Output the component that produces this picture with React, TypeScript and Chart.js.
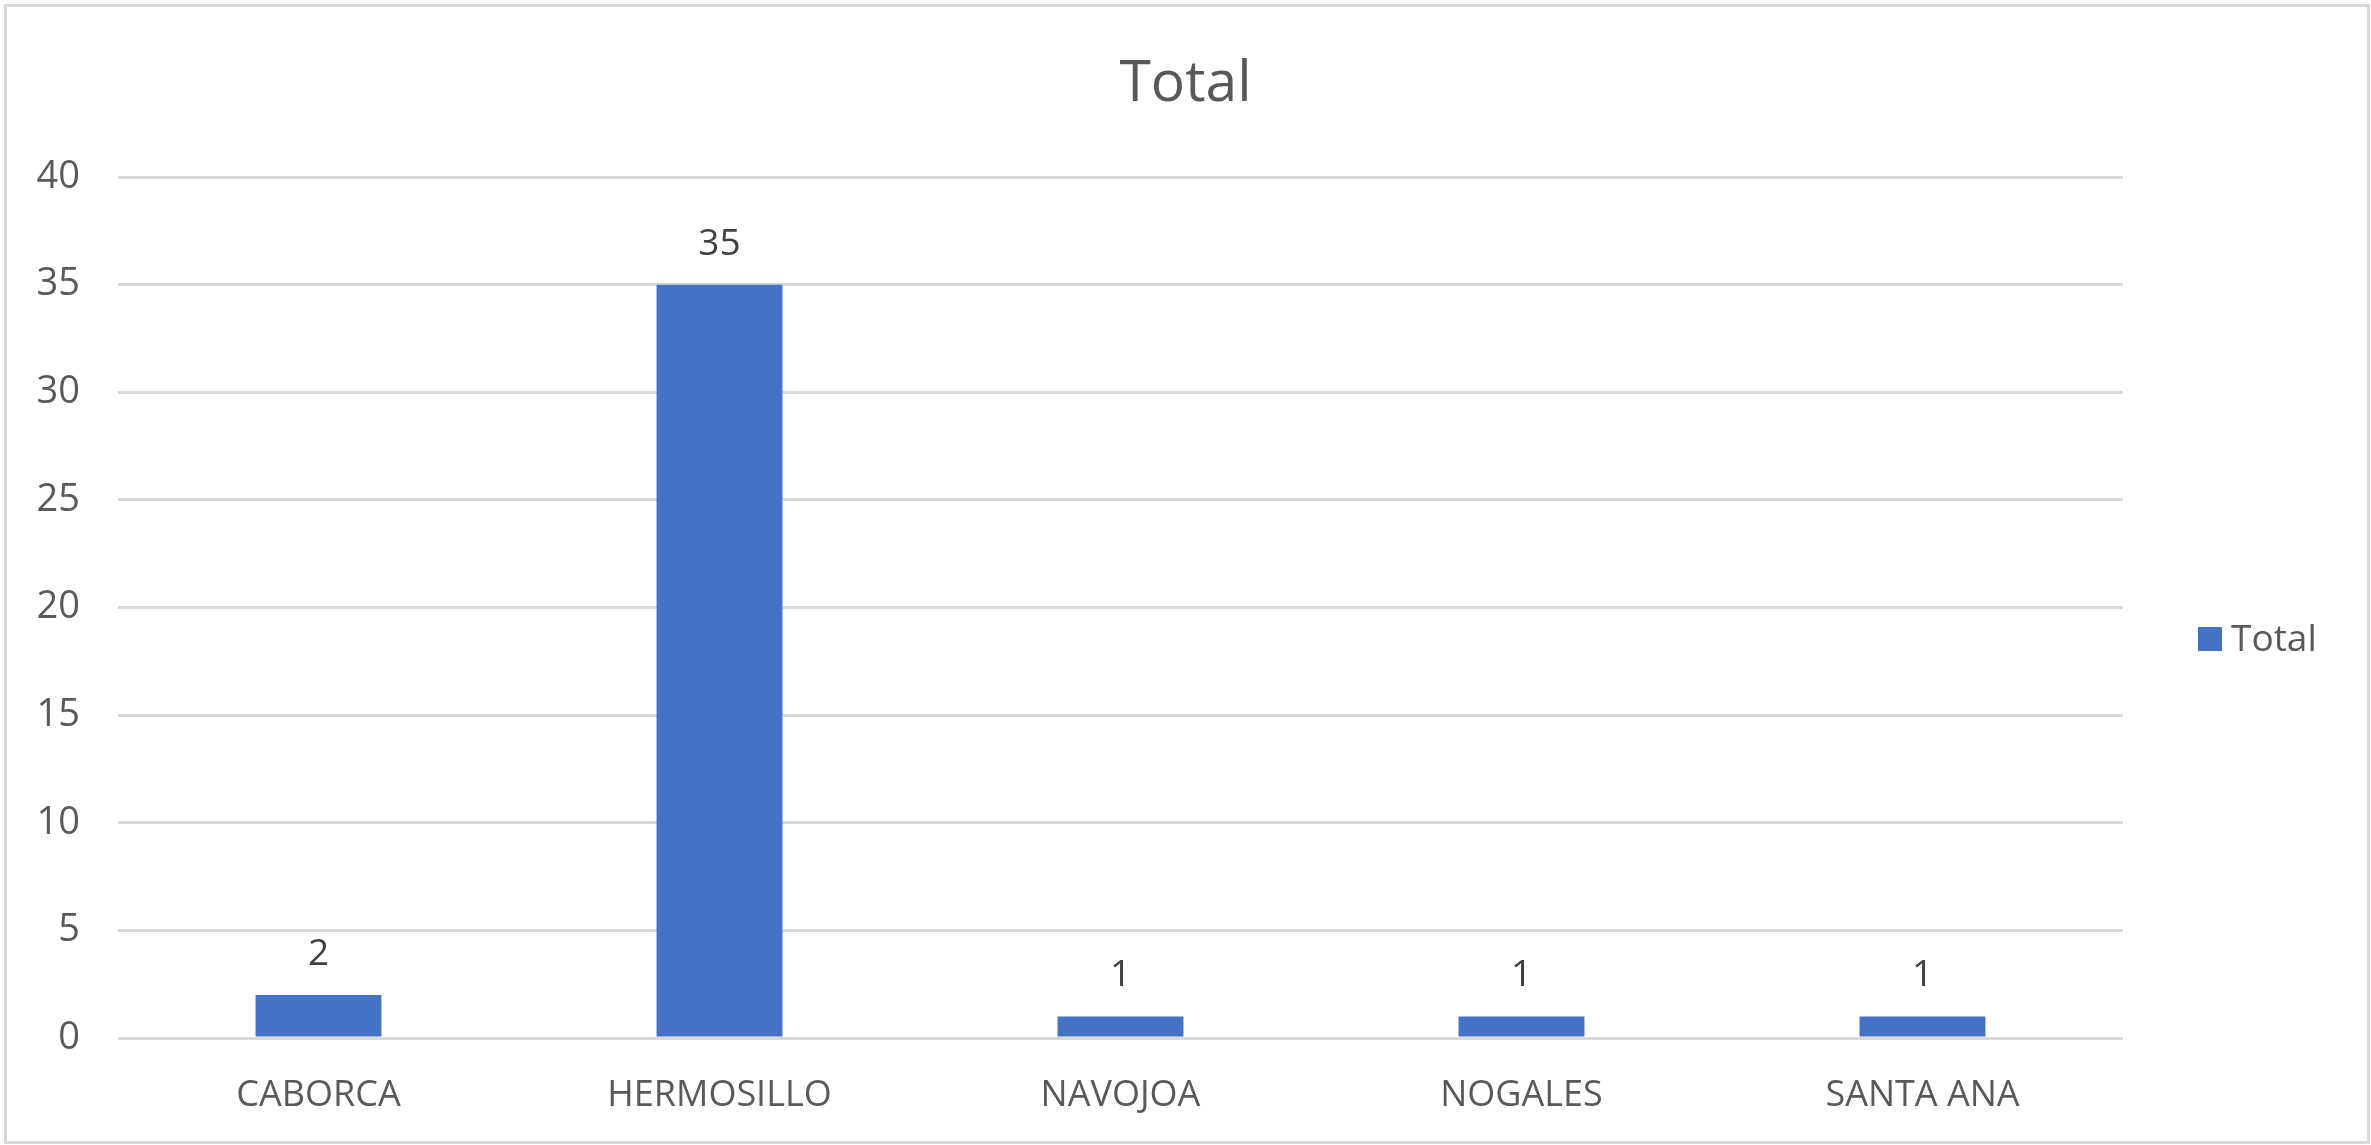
import React, { useEffect, useRef } from "react";
import { Chart, registerables } from "chart.js";

Chart.register(...registerables);

const chartTitle = "Total";
const seriesName = "Total";
const categories = ["CABORCA", "HERMOSILLO", "NAVOJOA", "NOGALES", "SANTA ANA"];
const totals = [2, 35, 1, 1, 1];
const yMin = 0;
const yMax = 40;
const yStep = 5;

const FONT = "'Open Sans', 'Noto Sans', sans-serif";
const BAR_COLOR = "#4472C4";

const framePlugin = {
  id: "frame",
  beforeDraw(chart: any) {
    const { ctx, width, height } = chart;
    ctx.save();
    ctx.fillStyle = "#ffffff";
    ctx.fillRect(0, 0, width, height);
    ctx.strokeStyle = "#d9d9d9";
    ctx.lineWidth = 3;
    ctx.strokeRect(5.5, 5.5, width - 8, height - 8);
    ctx.restore();
  },
};

const titlePlugin = {
  id: "customTitle",
  afterDraw(chart: any) {
    const { ctx, width } = chart;
    ctx.save();
    ctx.fillStyle = "#595959";
    ctx.font = `57px ${FONT}`;
    ctx.textAlign = "center";
    ctx.textBaseline = "alphabetic";
    ctx.fillText(chartTitle, width / 2, 101);
    ctx.restore();
  },
};

const dataLabelPlugin = {
  id: "dataLabels",
  afterDatasetsDraw(chart: any) {
    const { ctx } = chart;
    const meta = chart.getDatasetMeta(0);
    const values = chart.data.datasets[0].data;
    ctx.save();
    ctx.fillStyle = "#404040";
    ctx.font = `37px ${FONT}`;
    ctx.textAlign = "center";
    ctx.textBaseline = "alphabetic";
    meta.data.forEach((bar: any, i: number) => {
      ctx.fillText(String(values[i]), bar.x, bar.y - 30);
    });
    ctx.restore();
  },
};

const legendPlugin = {
  id: "customLegend",
  afterDraw(chart: any) {
    const { ctx } = chart;
    const ds = chart.data.datasets[0];
    const x = chart.chartArea.right + 75;
    const yBottom = 651;
    ctx.save();
    ctx.fillStyle = ds.backgroundColor;
    ctx.fillRect(x, yBottom - 24, 24, 24);
    ctx.fillStyle = "#595959";
    ctx.font = `37px ${FONT}`;
    ctx.textAlign = "left";
    ctx.textBaseline = "alphabetic";
    ctx.fillText(ds.label, x + 33, yBottom);
    ctx.restore();
  },
};

export default function App() {
  const canvasRef = useRef<HTMLCanvasElement | null>(null);

  useEffect(() => {
    document.body.style.margin = "0";
    document.body.style.overflow = "hidden";
    const canvas = canvasRef.current;
    if (!canvas) return;
    const chart = new Chart(canvas, {
      type: "bar",
      data: {
        labels: categories,
        datasets: [
          {
            label: seriesName,
            data: totals,
            backgroundColor: BAR_COLOR,
            borderWidth: 0,
            categoryPercentage: 1,
            barPercentage: 0.314,
          },
        ],
      },
      options: {
        responsive: false,
        maintainAspectRatio: false,
        animation: false,
        devicePixelRatio: 1,
        layout: { padding: { left: 0, right: 248, top: 177, bottom: 0 } },
        plugins: {
          legend: { display: false },
          tooltip: { enabled: false },
          title: { display: false },
        },
        scales: {
          x: {
            grid: { display: false, drawTicks: false },
            border: { display: false },
            ticks: {
              color: "#595959",
              font: { family: FONT, size: 36 },
              padding: 36,
              maxRotation: 0,
            },
            afterFit(scale: any) {
              scale.height = 107;
            },
          },
          y: {
            min: yMin,
            max: yMax,
            grid: { color: "#d9d9d9", lineWidth: 3, drawTicks: false },
            border: { display: false },
            ticks: {
              stepSize: yStep,
              color: "#595959",
              font: { family: FONT, size: 38 },
              padding: 38,
            },
            afterFit(scale: any) {
              scale.width = 118;
            },
          },
        },
      },
      plugins: [framePlugin, titlePlugin, dataLabelPlugin, legendPlugin],
    });
    return () => chart.destroy();
  }, []);

  return (
    <div style={{ width: 2371, height: 1145 }}>
      <canvas ref={canvasRef} width={2371} height={1145} style={{ display: "block" }} />
    </div>
  );
}
